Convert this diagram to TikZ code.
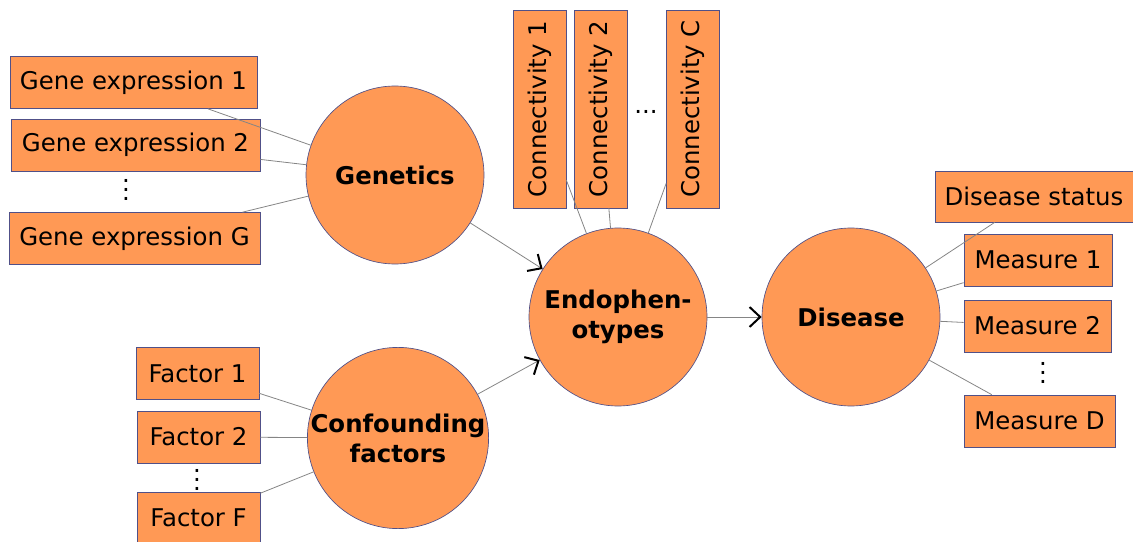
\documentclass[tikz,border=0pt]{standalone}
\usepackage{fontspec}
\setmainfont{DejaVu Sans}
\usepackage{tikz}
\usetikzlibrary{arrows.meta}
\usepackage{xcolor}

\definecolor{boxfill}{HTML}{FF9955}
\definecolor{boxline}{HTML}{505088}
\definecolor{linkgray}{HTML}{858585}

\newcommand{\vdotsbig}{\vbox{\baselineskip6.5pt\lineskiplimit0pt\hbox{.}\hbox{.}\hbox{.}}}

\tikzset{
	box/.style={draw=boxline, fill=boxfill, line width=0.5pt, inner sep=0pt, minimum height=39pt, font=\fontsize{18.3}{22}\selectfont},
	blob/.style={circle, draw=boxline, fill=boxfill, line width=0.5pt, inner sep=0pt, minimum size=133.5pt, align=center, font=\fontsize{18.3}{22.5}\selectfont\bfseries},
	link/.style={draw=linkgray, line width=0.6pt},
	arr/.style={draw=linkgray, line width=0.6pt, -{Straight Barb[length=8pt,width=15pt,line width=1.5pt,color=black]}},
	dots/.style={inner sep=0pt, font=\fontsize{18.3}{22}\selectfont}
}

\begin{document}
\begin{tikzpicture}[x=0.75pt, y=-0.75pt]
	    \useasboundingbox (0,0) rectangle (1133,542);
	    % circles
	    \node(gen)	[blob] at (395,175)	{Genetics};
	    \node(conf)	[blob] at (398,438)	{Confounding\\factors};
	    \node(endo)	[blob] at (618,317)	{Endophen-\\otypes};
	    \node(dis)	[blob] at (851,317)	{Disease};
	    % genes
	    \node(g1)	[box, minimum width=185.25pt] at (133.5,82.5)	{Gene expression 1};
	    \node(g2)	[box, minimum width=186.75pt] at (135.5,145)	{Gene expression 2};
	    \node(gdots)	[dots] at (126,190)	{\vdotsbig};
	    \node(gG)	[box, minimum width=188.25pt] at (134.5,238.5)	{Gene expression G};
	    % factors
	    \node(f1)	[box, minimum width=92.25pt] at (197.5,373.5)	{Factor 1};
	    \node(f2)	[box, minimum width=92.25pt] at (198.5,437)	{Factor 2};
	    \node(fdots)	[dots] at (197,480)	{\vdotsbig};
	    \node(fF)	[box, minimum width=92.25pt] at (198.5,518)	{Factor F};
	    % connectivity
	    \node(c1)	[box, rotate=90, minimum width=148.5pt, minimum height=39.75pt] at (539.5,109)	{Connectivity 1};
	    \node(c2)	[box, rotate=90, minimum width=148.5pt, minimum height=39.75pt] at (600.5,109)	{Connectivity 2};
	    \node(cdots)	[dots] at (646,112)	{...};
	    \node(cC)	[box, rotate=90, minimum width=148.5pt, minimum height=39.75pt] at (693,109)	{Connectivity C};
	    % measures
	    \node(ds)	[box, minimum width=148.5pt, minimum height=38.25pt] at (1034,196.5)	{Disease status};
	    \node(m1)	[box, minimum width=111pt] at (1038,260)	{Measure 1};
	    \node(m2)	[box, minimum width=110.25pt] at (1037.5,326)	{Measure 2};
	    \node(mdots)	[dots] at (1043,373)	{\vdotsbig};
	    \node(mD)	[box, minimum width=113.25pt] at (1039.5,421)	{Measure D};
	    % links
	    \draw[link] (g1) -- (gen);
	    \draw[link] (g2) -- (gen);
	    \draw[link] (gG) -- (gen);
	    \draw[link] (f1) -- (conf);
	    \draw[link] (f2) -- (conf);
	    \draw[link] (fF) -- (conf);
	    \draw[link] (c1) -- (endo);
	    \draw[link] (c2) -- (endo);
	    \draw[link] (cC) -- (endo);
	    \draw[link] (dis) -- (ds);
	    \draw[link] (dis) -- (m1);
	    \draw[link] (dis) -- (m2);
	    \draw[link] (dis) -- (mD);
	    \draw[arr] (gen) -- (endo);
	    \draw[arr] (conf) -- (endo);
	    \draw[arr] (endo) -- (dis);
	  \end{tikzpicture}
\end{document}
